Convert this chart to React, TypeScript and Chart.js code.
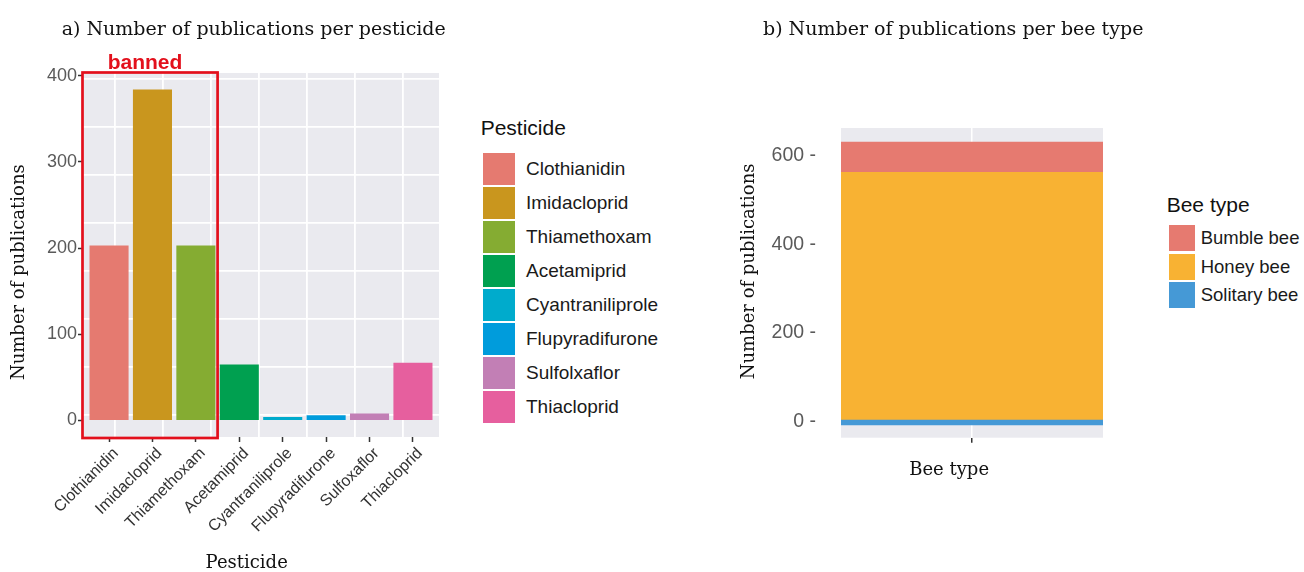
import React, { useEffect, useRef } from 'react';
import { Chart, registerables } from 'chart.js';

Chart.register(...registerables);
Chart.defaults.font.family = "'Liberation Sans', Arial, sans-serif";

// ---- Panel a data ----
const pesticides = ['Clothianidin', 'Imidacloprid', 'Thiamethoxam', 'Acetamiprid', 'Cyantraniliprole', 'Flupyradifurone', 'Sulfoxaflor', 'Thiacloprid'];
const pesticideLegendLabels = ['Clothianidin', 'Imidacloprid', 'Thiamethoxam', 'Acetamiprid', 'Cyantraniliprole', 'Flupyradifurone', 'Sulfolxaflor', 'Thiacloprid'];
const publications = [203, 384, 203, 65, 4, 6, 8, 67];
const pesticideColors = ['#E57A70', '#C9961E', '#85AC32', '#00A050', '#00ABCC', '#009CDC', '#C27FB5', '#E65F9E'];
const yTicksA = [0, 100, 200, 300, 400];
const bannedRange = [-0.6, 2.5];
// background grid of panel a (in pixels from panel origin)
const gridLinesX = [32, 80, 128, 176, 224, 272, 320];
const gridLinesY = [22, 70, 118, 166, 214, 262, 310, 358];

// ---- Panel b data ----
const beeTypes = ['Bumble bee', 'Honey bee', 'Solitary bee'];
const beeCounts = [68, 560, 11];
const beeColors = ['#E67A70', '#F8B233', '#4599D6'];
const stackOrder = [2, 1, 0];
const yTicksB = [0, 200, 400, 600];

const PANEL_BG = '#EAEAEF';
const RED = '#E3101C';
const SERIF = "'DejaVu Serif', serif";
const SANS = "'Liberation Sans', Arial, sans-serif";

const panelBg = {
  id: 'panelBg',
  beforeDraw(chart: any) {
    const { ctx, chartArea: a } = chart;
    ctx.save();
    ctx.fillStyle = PANEL_BG;
    ctx.fillRect(a.left, a.top, a.right - a.left, a.bottom - a.top);
    ctx.restore();
  },
};

const bannedBox = {
  id: 'bannedBox',
  afterDatasetsDraw(chart: any) {
    const { ctx, chartArea: a } = chart;
    const xs = chart.scales.x;
    const x1 = xs.getPixelForValue(bannedRange[0]) - 0.5;
    const x2 = xs.getPixelForValue(bannedRange[1]);
    ctx.save();
    ctx.strokeStyle = RED;
    ctx.lineWidth = 2.7;
    ctx.strokeRect(x1, a.top - 0.5, x2 - x1, a.bottom - a.top + 1.5);
    ctx.fillStyle = RED;
    ctx.font = `bold 21px ${SANS}`;
    ctx.textAlign = 'center';
    ctx.textBaseline = 'alphabetic';
    ctx.fillText('banned', (x1 + x2) / 2 - 5, a.top - 4);
    ctx.restore();
  },
};

const titleFont = { family: SERIF, size: 18, lineHeight: 1 };

export default function App() {
  const refA = useRef<HTMLCanvasElement>(null);
  const refB = useRef<HTMLCanvasElement>(null);

  useEffect(() => {
    const chartA = new Chart(refA.current as HTMLCanvasElement, {
      type: 'bar',
      data: {
        datasets: [
          {
            data: pesticides.map((_, i) => ({ x: i, y: publications[i] })),
            backgroundColor: pesticideColors,
            borderWidth: 0,
            barPercentage: 0.9,
            categoryPercentage: 1,
            xAxisID: 'x',
            yAxisID: 'y',
          } as any,
        ],
      },
      options: {
        responsive: false,
        animation: false,
        devicePixelRatio: 1,
        layout: { padding: { left: 0, right: 21, top: 73, bottom: 0 } },
        plugins: { legend: { display: false }, tooltip: { enabled: false } },
        scales: {
          x: {
            type: 'linear',
            position: 'bottom',
            offset: false,
            min: -0.6,
            max: 7.6,
            afterBuildTicks: (s: any) => { s.ticks = pesticides.map((_, i) => ({ value: i })); },
            afterFit: (s: any) => { s.height = 135; },
            ticks: {
              autoSkip: false,
              minRotation: 45,
              maxRotation: 45,
              padding: 2,
              labelOffset: 7,
              color: '#333',
              font: { size: 16 },
              callback: (v: any) => pesticides[v] ?? '',
            },
            grid: { offset: false, drawOnChartArea: false, drawTicks: true, tickLength: 5, tickColor: '#333', tickWidth: 1.5 },
            border: { display: false },
            title: { display: true, text: 'Pesticide     ', font: titleFont, color: '#111', padding: 0 },
          },
          gx: {
            type: 'linear',
            position: 'bottom',
            offset: false,
            min: 0,
            max: 356,
            afterBuildTicks: (s: any) => { s.ticks = gridLinesX.map((v) => ({ value: v })); },
            afterFit: (s: any) => { s.height = 0; },
            ticks: { display: false },
            grid: { offset: false, color: '#FFFFFF', lineWidth: 1.8, drawTicks: false },
            border: { display: false },
          },
          y: {
            type: 'linear',
            position: 'left',
            min: -19.2,
            max: 403.2,
            afterBuildTicks: (s: any) => { s.ticks = yTicksA.map((v) => ({ value: v })); },
            afterFit: (s: any) => { s.width = 83; },
            ticks: { color: '#5a5a5a', font: { size: 18 }, padding: 1 },
            grid: { drawOnChartArea: false, drawTicks: true, tickLength: 5, tickColor: '#333', tickWidth: 1.5 },
            border: { display: false },
            title: { display: true, text: 'Number of publications      ', font: titleFont, color: '#111', padding: { top: 10, bottom: 0 } },
          },
          gy: {
            type: 'linear',
            position: 'left',
            min: 0,
            max: 364,
            afterBuildTicks: (s: any) => { s.ticks = gridLinesY.map((v) => ({ value: v })); },
            afterFit: (s: any) => { s.width = 0; },
            ticks: { display: false },
            grid: { color: '#FFFFFF', lineWidth: 1.8, drawTicks: false },
            border: { display: false },
          },
        },
      } as any,
      plugins: [panelBg, bannedBox],
    });

    const chartB = new Chart(refB.current as HTMLCanvasElement, {
      type: 'bar',
      data: {
        labels: ['Bee type'],
        datasets: stackOrder.map((i) => ({
          label: beeTypes[i],
          data: [beeCounts[i]],
          backgroundColor: beeColors[i],
          borderWidth: 0,
          barPercentage: 1,
          categoryPercentage: 1,
        })),
      },
      options: {
        responsive: false,
        animation: false,
        devicePixelRatio: 1,
        layout: { padding: { left: 0, right: 27, top: 128, bottom: 0 } },
        plugins: { legend: { display: false }, tooltip: { enabled: false } },
        scales: {
          x: {
            stacked: true,
            offset: true,
            afterFit: (s: any) => { s.height = 134.3; },
            ticks: { callback: () => '' },
            grid: { offset: false, color: '#FFFFFF', lineWidth: 1.5, tickColor: '#333', tickLength: 5, tickWidth: 1.5 },
            border: { display: false },
            title: { display: true, text: 'Bee type        ', font: titleFont, color: '#111', padding: { top: 0, bottom: 93 } },
          },
          y: {
            stacked: true,
            min: -29,
            max: 671,
            afterBuildTicks: (s: any) => { s.ticks = yTicksB.map((v) => ({ value: v })); },
            afterFit: (s: any) => { s.width = 141; },
            ticks: { callback: (v: any) => `${v} -`, color: '#5a5a5a', font: { size: 19.5 }, padding: 25, labelOffset: -3.5 },
            grid: { display: false, drawTicks: false },
            border: { display: false },
            title: { display: true, text: '    Number of publications', font: titleFont, color: '#111', padding: { top: 40, bottom: 0 } },
          },
        },
      } as any,
      plugins: [panelBg],
    });

    return () => {
      chartA.destroy();
      chartB.destroy();
    };
  }, []);

  const abs = (s: React.CSSProperties): React.CSSProperties => ({ position: 'absolute', whiteSpace: 'nowrap', ...s });

  return (
    <div style={{ position: 'absolute', left: 0, top: 0, width: 1304, height: 572, background: '#fff', overflow: 'hidden' }}>
      <canvas ref={refA} width={460} height={572} style={{ position: 'absolute', left: 0, top: 0 }} />
      <canvas ref={refB} width={430} height={572} style={{ position: 'absolute', left: 700, top: 0 }} />

      <div style={abs({ left: 61.7, top: 18.9, font: `19px/19px ${SERIF}`, color: '#111' })}>a) Number of publications per pesticide</div>
      <div style={abs({ left: 763, top: 18.9, font: `19px/19px ${SERIF}`, color: '#111' })}>b) Number of publications per bee type</div>

      {/* Legend a */}
      <div style={abs({ left: 480.7, top: 116.5, font: `21px/21px ${SANS}`, color: '#111' })}>Pesticide</div>
      {pesticideLegendLabels.map((name, i) => (
        <React.Fragment key={name}>
          <div style={abs({ left: 482.7, top: 152.7 + 34 * i, width: 32.3, height: 32, background: pesticideColors[i] })} />
          <div style={abs({ left: 526, top: 151.7 + 34 * i, height: 34, font: `19px/34px ${SANS}`, color: '#1a1a1a' })}>{name}</div>
        </React.Fragment>
      ))}

      {/* Legend b */}
      <div style={abs({ left: 1166.7, top: 193.9, font: `21px/21px ${SANS}`, color: '#111' })}>Bee type</div>
      {beeTypes.map((name, i) => (
        <React.Fragment key={name}>
          <div style={abs({ left: 1169, top: 225.3 + 28.2 * i, width: 26, height: 26, background: beeColors[i] })} />
          <div style={abs({ left: 1200.7, top: 225.3 + 28.2 * i, height: 26, font: `18.5px/26px ${SANS}`, color: '#1a1a1a' })}>{name}</div>
        </React.Fragment>
      ))}
    </div>
  );
}
